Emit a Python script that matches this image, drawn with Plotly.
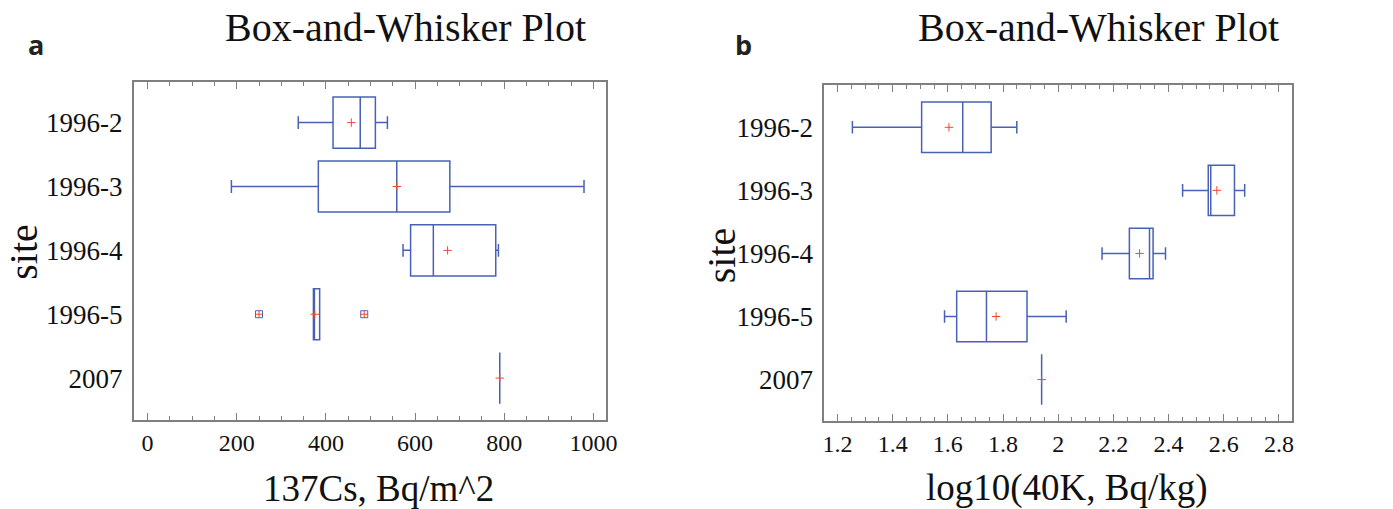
import plotly.graph_objects as go

# ---------------- data ----------------
sites = ["1996-2", "1996-3", "1996-4", "1996-5", "2007"]

# panel a: 137Cs, Bq/m^2
cs_lower = [338, 188, 573, 372, 790]
cs_q1 = [416, 383, 590, 372, 790]
cs_median = [477, 559, 641, 374, 790]
cs_q3 = [511, 678, 781, 386, 790]
cs_upper = [538, 979, 787, 386, 790]
cs_mean = [457, 559, 673, 375, 790]
cs_outlier_sites = ["1996-5", "1996-5"]
cs_outlier_vals = [250, 486]

# panel b: log10(40K, Bq/kg)
k_lower = [1.254, 2.451, 2.159, 1.588, 1.940]
k_q1 = [1.505, 2.544, 2.258, 1.632, 1.940]
k_median = [1.654, 2.553, 2.331, 1.740, 1.940]
k_q3 = [1.757, 2.639, 2.344, 1.887, 1.940]
k_upper = [1.850, 2.676, 2.389, 2.029, 1.940]
k_mean = [1.604, 2.575, 2.295, 1.775, 1.940]

cs_ticks = [0, 200, 400, 600, 800, 1000]
k_ticks = [1.2, 1.4, 1.6, 1.8, 2.0, 2.2, 2.4, 2.6, 2.8]
k_ticktext = ["1.2", "1.4", "1.6", "1.8", "2", "2.2", "2.4", "2.6", "2.8"]

# ---------------- style ----------------
W, H = 1393, 509
BLUE = "#4861b6"
RED = "#ee4a2a"
FRAME = "#7f7f7f"
SERIF = "Liberation Serif"
TXT = "#111111"


def px_x(p):
    return p / W


def px_y(p):
    return 1 - p / H


fig = go.Figure()


def add_panel(xa, ya, lower, q1, med, q3, upper, mean):
    fig.add_trace(go.Box(
        y=sites, q1=q1, median=med, q3=q3,
        lowerfence=lower, upperfence=upper,
        orientation="h", boxpoints=False,
        fillcolor="rgba(0,0,0,0)",
        line=dict(color=BLUE, width=1.5),
        whiskerwidth=0.25, width=0.8,
        xaxis=xa, yaxis=ya, showlegend=False, hoverinfo="skip",
    ))
    fig.add_trace(go.Scatter(
        x=mean, y=sites, mode="markers",
        marker=dict(symbol="cross-thin", size=6,
                    line=dict(color=RED, width=1)),
        xaxis=xa, yaxis=ya, showlegend=False, hoverinfo="skip",
    ))


add_panel("x", "y", cs_lower, cs_q1, cs_median, cs_q3, cs_upper, cs_mean)
add_panel("x2", "y2", k_lower, k_q1, k_median, k_q3, k_upper, k_mean)

# outliers (panel a)
fig.add_trace(go.Scatter(
    x=cs_outlier_vals, y=cs_outlier_sites, mode="markers",
    marker=dict(symbol="square-open", size=7, color=BLUE,
                line=dict(color=BLUE, width=1)),
    xaxis="x", yaxis="y", showlegend=False, hoverinfo="skip",
))
fig.add_trace(go.Scatter(
    x=cs_outlier_vals, y=cs_outlier_sites, mode="markers",
    marker=dict(symbol="cross-thin", size=5,
                line=dict(color=RED, width=1)),
    xaxis="x", yaxis="y", showlegend=False, hoverinfo="skip",
))


def xaxis_style(domain, rng, tickvals, ticktext, minor_dtick, anchor):
    return dict(
        domain=domain, range=rng, anchor=anchor,
        tickmode="array", tickvals=tickvals, ticktext=ticktext,
        showline=True, linecolor=FRAME, linewidth=1.5, mirror="ticks",
        ticks="inside", ticklen=7, tickcolor=FRAME, tickwidth=1.2,
        showgrid=False, zeroline=False,
        tickfont=dict(family=SERIF, size=24, color=TXT),
        minor=dict(ticks="inside", ticklen=4, tickcolor=FRAME, tickwidth=1.2,
                   dtick=minor_dtick, tick0=0, showgrid=False),
    )


def yaxis_style(domain, rng, anchor):
    return dict(
        domain=domain, range=rng, anchor=anchor,
        type="category", categoryorder="array", categoryarray=sites,
        showline=True, linecolor=FRAME, linewidth=1.5, mirror=True,
        ticks="", showgrid=False, zeroline=False,
        tickfont=dict(family=SERIF, size=27, color=TXT),
        ticklabelstandoff=4,
    )


fig.update_layout(
    width=W, height=H,
    margin=dict(l=0, r=0, t=0, b=0),
    paper_bgcolor="white", plot_bgcolor="white",
    font=dict(family=SERIF, color=TXT),
    xaxis=xaxis_style([px_x(133), px_x(610)], [-31, 1029], cs_ticks,
                      [str(v) for v in cs_ticks], 50, "y"),
    yaxis=yaxis_style([px_y(420), px_y(82)], [4.656, -0.636], "x"),
    xaxis2=xaxis_style([px_x(830), px_x(1302)], [1.152, 2.847], k_ticks,
                       k_ticktext, 0.05, "y2"),
    yaxis2=yaxis_style([px_y(421), px_y(85)], [4.657, -0.671], "x2"),
)

ann = []
# panel letters
ann.append(dict(text="<b>a</b>", x=px_x(34), y=px_y(44), font=dict(family="Open Sans", size=27, color="#222")))
ann.append(dict(text="<b>b</b>", x=px_x(748), y=px_y(44), font=dict(family="Open Sans", size=27, color="#222")))
# titles
ann.append(dict(text="Box-and-Whisker Plot", x=px_x(407), y=px_y(28), font=dict(family=SERIF, size=40, color=TXT)))
ann.append(dict(text="Box-and-Whisker Plot", x=px_x(1107), y=px_y(28), font=dict(family=SERIF, size=40, color=TXT)))
# axis titles
ann.append(dict(text="137Cs, Bq/m^2", x=px_x(380), y=px_y(488), font=dict(family=SERIF, size=37, color=TXT)))
ann.append(dict(text="log10(40K, Bq/kg)", x=px_x(1075), y=px_y(488), font=dict(family=SERIF, size=37, color=TXT)))
ann.append(dict(text="site", x=px_x(22), y=px_y(252), textangle=-90, font=dict(family=SERIF, size=40, color=TXT)))
ann.append(dict(text="site", x=px_x(726), y=px_y(255), textangle=-90, font=dict(family=SERIF, size=40, color=TXT)))

fig.update_layout(annotations=[dict(a, xref="paper", yref="paper", showarrow=False,
                                    xanchor="center", yanchor="middle") for a in ann])

fig.write_html("out.html")
